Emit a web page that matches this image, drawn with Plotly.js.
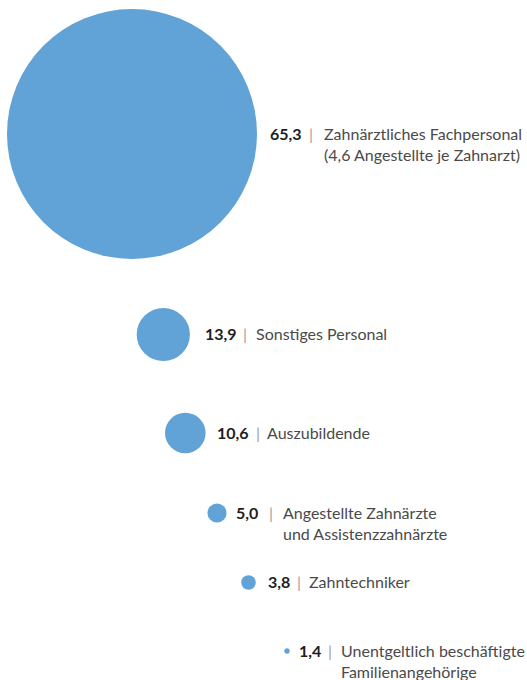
<!DOCTYPE html>
<html>
<head>
<meta charset="utf-8">
<script src="https://cdn.plot.ly/plotly-3.0.1.min.js"></script>
<style>html,body{margin:0;padding:0;background:#fff;}#chart{width:527px;height:680px;}</style>
</head>
<body>
<div id="chart"></div>
<script>
// ---- data ----
const values = [65.3, 13.9, 10.6, 5.0, 3.8, 1.4];
const valueLabels = ["65,3", "13,9", "10,6", "5,0", "3,8", "1,4"];
const categoryLines = [
  ["Zahnärztliches Fachpersonal", "(4,6 Angestellte je Zahnarzt)"],
  ["Sonstiges Personal"],
  ["Auszubildende"],
  ["Angestellte Zahnärzte", "und Assistenzzahnärzte"],
  ["Zahntechniker"],
  ["Unentgeltlich beschäftigte", "Familienangehörige"]
];

// ---- layout (positions in axis units = px) ----
const centerX = [132, 163.3, 185.3, 217, 248.5, 287];
const centerY = [134, 334.5, 433, 513, 582.5, 651];
const numberX = [270, 205, 217, 236, 268, 299];
const barXpos = [309, 243, 256, 269, 297, 328];
const labelX  = [324, 256, 267, 283, 309, 341];
const pxPerUnit = 250 / 65.3;
const FONT = "Lato";
const FS = 16;
const LINE = 21;
const PAD = 2;

const annotations = [];
values.forEach((v, i) => {
  const y = centerY[i] - 1;
  annotations.push({x: numberX[i] - PAD, y: y, xref: "x", yref: "y", xanchor: "left", yanchor: "middle",
    text: "<b>" + valueLabels[i] + "</b>", showarrow: false, font: {family: FONT, size: FS, color: "#1e1e1e"}});
  annotations.push({x: barXpos[i] - PAD, y: y, xref: "x", yref: "y", xanchor: "left", yanchor: "middle",
    text: "|", showarrow: false, font: {family: FONT, size: FS, color: "#a0a0a0"}});
  categoryLines[i].forEach((line, j) => {
    annotations.push({x: labelX[i] - PAD, y: y + j * LINE, xref: "x", yref: "y", xanchor: "left", yanchor: "middle",
      text: line, showarrow: false, font: {family: FONT, size: FS, color: "#4a4a4a"}});
  });
});

const trace = {
  type: "scatter", mode: "markers",
  x: centerX, y: centerY,
  marker: {size: values, sizemode: "diameter", sizeref: 1 / pxPerUnit, color: "#62a3d7", line: {width: 0}, opacity: 1},
  cliponaxis: false, hoverinfo: "skip"
};

const layout = {
  width: 527, height: 680,
  margin: {l: 0, r: 0, t: 0, b: 0, pad: 0},
  paper_bgcolor: "#fff", plot_bgcolor: "#fff",
  showlegend: false,
  xaxis: {range: [0, 527], visible: false, fixedrange: true},
  yaxis: {range: [680, 0], visible: false, fixedrange: true},
  annotations: annotations
};

Plotly.newPlot("chart", [trace], layout, {displayModeBar: false, staticPlot: true});
</script>
</body>
</html>
